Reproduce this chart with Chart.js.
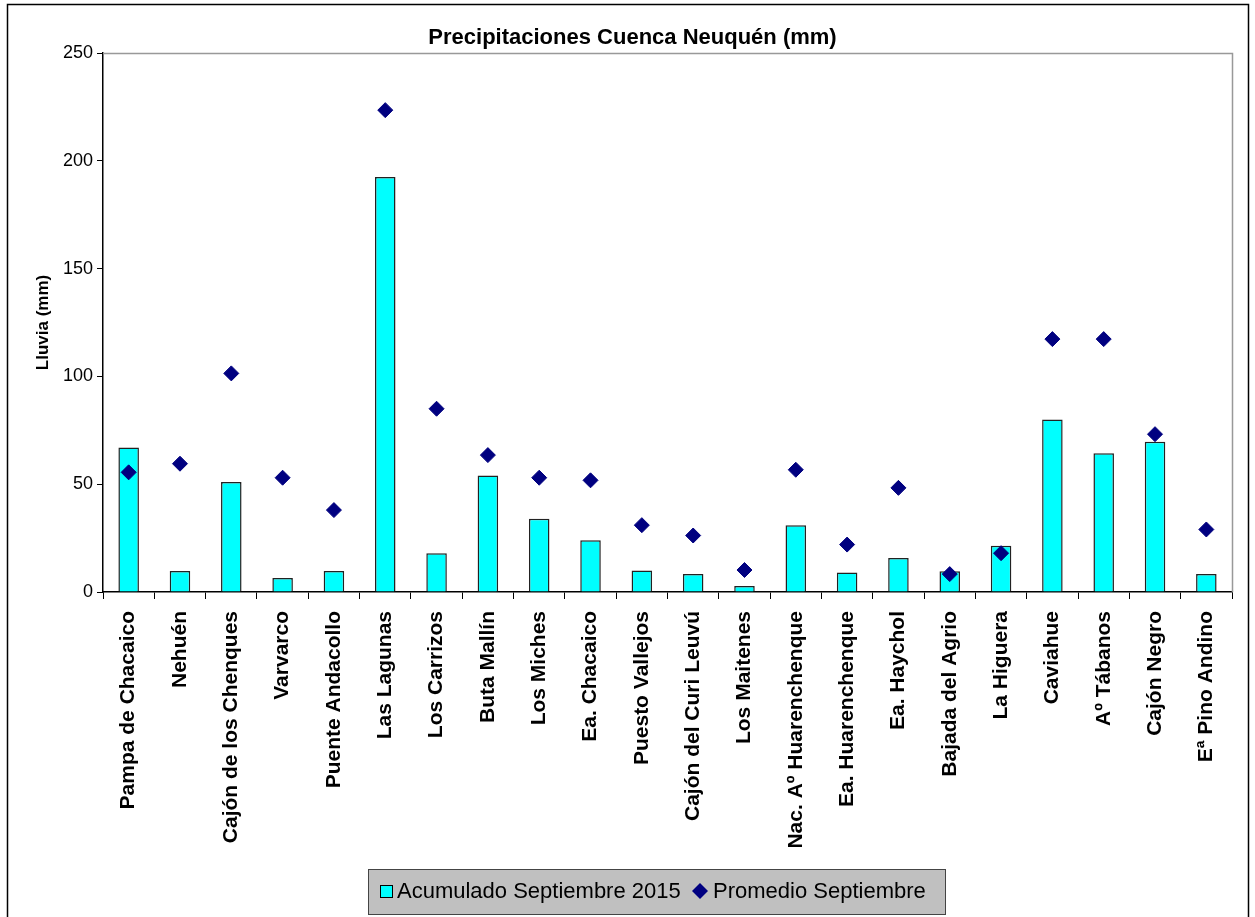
<!DOCTYPE html>
<html>
<head>
<meta charset="utf-8">
<script src="https://cdn.jsdelivr.net/npm/chart.js@4"></script>
<style>
  html, body { margin: 0; padding: 0; background: #fff; }
  #wrap { width: 1255px; height: 917px; }
</style>
</head>
<body>
<div id="wrap"><canvas id="lluvia" width="1255" height="917"></canvas></div>
<script>
// ── DATA ──────────────────────────────────────────────────────────────────
const estaciones = [
  'Pampa de Chacaico', 'Nehuén', 'Cajón de los Chenques', 'Varvarco',
  'Puente Andacollo', 'Las Lagunas', 'Los Carrizos', 'Buta Mallín',
  'Los Miches', 'Ea. Chacaico', 'Puesto Vallejos', 'Cajón del Curi Leuvú',
  'Los Maitenes', 'Nac. Aº Huarenchenque', 'Ea. Huarenchenque', 'Ea. Haychol',
  'Bajada del Agrio', 'La Higuera', 'Caviahue', 'Aº Tábanos',
  'Cajón Negro', 'Eª Pino Andino',
];
const acumulado2015 = [
  67, 9.7, 51, 6.5, 9.7, 192.5, 18, 54,
  34, 24, 10, 8.3, 2.8, 31, 9, 15.8,
  9.6, 21.5, 80, 64.3, 69.7, 8.3,
];
const promedioSept = [
  55.5, 59.5, 101.4, 53, 38, 223.5, 85, 63.5,
  53, 51.8, 31, 26.2, 10.2, 56.7, 22, 48.3,
  8.3, 18, 117.3, 117.3, 73.2, 29,
];
const yTicks = [0, 50, 100, 150, 200, 250];
const serieNombres = ['Acumulado Septiembre 2015', 'Promedio Septiembre'];

const CYAN = '#00FFFF';
const NAVY = '#000080';
const FONT = 'Liberation Sans, Arial, sans-serif';

// outer frame, plot border and the grey Excel-style legend box
const framePlugin = {
  id: 'frame',
  afterLayout(chart) {
    // title is slightly right of centre in the original
    chart.titleBlock.left += 9;
    chart.titleBlock.right += 9;
  },
  afterDraw(chart) {
    const ctx = chart.ctx;
    const a = chart.chartArea;
    ctx.save();
    ctx.strokeStyle = '#999';
    ctx.lineWidth = 1.5;
    ctx.beginPath();
    ctx.moveTo(a.left, a.top + 0.5);
    ctx.lineTo(a.right + 0.5, a.top + 0.5);
    ctx.lineTo(a.right + 0.5, a.bottom);
    ctx.stroke();
    ctx.strokeStyle = '#000';
    ctx.strokeRect(7.5, 4.5, 1241, 925);

    // legend
    const ly = 891;
    ctx.fillStyle = '#C0C0C0';
    ctx.fillRect(368, 869, 577, 45);
    ctx.strokeStyle = '#444';
    ctx.lineWidth = 1;
    ctx.strokeRect(368.5, 869.5, 577, 45);
    ctx.fillStyle = CYAN;
    ctx.fillRect(380, ly - 6, 12, 12);
    ctx.strokeStyle = '#000';
    ctx.strokeRect(380.5, ly - 5.5, 12, 12);
    ctx.fillStyle = NAVY;
    ctx.beginPath();
    ctx.moveTo(700, ly - 8);
    ctx.lineTo(708, ly);
    ctx.lineTo(700, ly + 8);
    ctx.lineTo(692, ly);
    ctx.closePath();
    ctx.fill();
    ctx.fillStyle = '#000';
    ctx.font = '22px ' + FONT;
    ctx.textBaseline = 'middle';
    ctx.textAlign = 'left';
    ctx.fillText(serieNombres[0], 397, ly + 1);
    ctx.fillText(serieNombres[1], 713, ly + 1);
    ctx.restore();
  },
};

new Chart(document.getElementById('lluvia'), {
  data: {
    labels: estaciones,
    datasets: [
      {
        type: 'bar',
        label: serieNombres[0],
        data: acumulado2015,
        backgroundColor: CYAN,
        borderColor: '#222',
        borderWidth: 1.5,
        borderSkipped: 'bottom',
        categoryPercentage: 1,
        barPercentage: 0.4,
        order: 1,
      },
      {
        type: 'line',
        label: serieNombres[1],
        data: promedioSept,
        showLine: false,
        pointStyle: 'rectRot',
        pointRadius: 7.5,
        pointBackgroundColor: NAVY,
        pointBorderColor: NAVY,
        pointBorderWidth: 1,
        backgroundColor: NAVY,
        borderColor: NAVY,
        order: 0,
      },
    ],
  },
  options: {
    responsive: false,
    animation: false,
    layout: { padding: { left: 15, right: 23, top: 0, bottom: 46 } },
    plugins: {
      title: {
        display: true,
        text: 'Precipitaciones Cuenca Neuquén (mm)',
        color: '#000',
        font: { family: FONT, size: 22, weight: 'bold', lineHeight: 1.2 },
        padding: { top: 25, bottom: 1.6 },
      },
      legend: { display: false },
      tooltip: { enabled: false },
    },
    scales: {
      x: {
        offset: true,
        grid: { display: true, offset: true, drawOnChartArea: false, tickLength: 7, color: '#000' },
        border: { color: '#000', width: 1.5 },
        ticks: {
          color: '#000',
          autoSkip: false,
          maxRotation: 90,
          minRotation: 90,
          padding: 12,
          font: { family: FONT, size: 21, weight: 'bold' },
        },
        afterFit: s => { s.height = 279; },
      },
      y: {
        min: 0,
        max: 250,
        afterBuildTicks: s => { s.ticks = yTicks.map(v => ({ value: v })); },
        grid: { display: true, drawOnChartArea: false, tickLength: 6, color: '#000' },
        border: { color: '#000', width: 1.5 },
        ticks: {
          color: '#000',
          padding: 4,
          font: { family: FONT, size: 18 },
        },
        title: {
          display: true,
          text: 'Lluvia (mm)',
          color: '#000',
          font: { family: FONT, size: 17, weight: 'bold' },
          padding: { top: 18, bottom: 0 },
        },
        afterFit: s => { s.width = 88; },
      },
    },
  },
  plugins: [framePlugin],
});
</script>
</body>
</html>
